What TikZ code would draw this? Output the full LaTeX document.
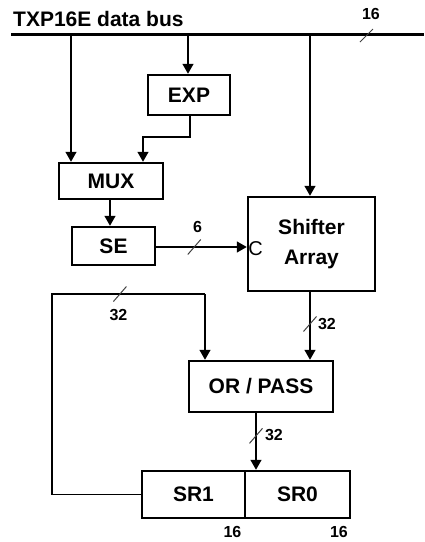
\documentclass[tikz,border=0pt]{standalone}
\usepackage{fontspec}
\setmainfont{Liberation Sans}
\usetikzlibrary{arrows.meta}
\tikzset{
  box/.style={draw, line width=2.5pt, inner sep=0pt, font=\fontsize{21pt}{30pt}\selectfont\bfseries, align=center},
  conn/.style={line width=1.4pt},
  arr/.style={conn, -{Triangle[length=10pt,width=11pt]}},
  busline/.style={line width=3pt},
  slash/.style={line width=1pt, black!75},
  num/.style={font=\fontsize{16pt}{18pt}\selectfont\bfseries, inner sep=0pt},
}
\begin{document}
\begin{tikzpicture}[x=1pt,y=-1pt]
\useasboundingbox (0,0) rectangle (424,542);
% title and bus
\node[anchor=base west, inner sep=0pt, font=\fontsize{21pt}{24pt}\selectfont\bfseries] (title) at (13,26) {TXP16E data bus};
\coordinate (busL) at (11,34);
\coordinate (busR) at (424,34);
\draw[busline] (busL) -- (busR);
\coordinate (bs) at (366.5,35.5);
\draw[slash] ([shift={(-6.5,6.5)}]bs) -- ([shift={(6.5,-6.5)}]bs);
\node[num] (n16a) at (371,14) {16};
% taps on bus
\coordinate (b1) at (71,34);
\coordinate (b2) at (188,34);
\coordinate (b3) at (310,34);
% boxes
\node[box, minimum width=82pt, minimum height=40pt] (exp) at (189,95) {EXP};
\node[box, minimum width=104pt, minimum height=36pt] (mux) at (111,181) {MUX};
\node[box, minimum width=83pt, minimum height=38pt] (se) at (113.5,246) {SE};
\node[box, minimum width=127pt, minimum height=94pt] (sh) at (311.5,244) {Shifter\\Array};
\node[box, minimum width=144pt, minimum height=51pt] (orp) at (261,386.5) {OR / PASS};
\node[box, minimum width=103pt, minimum height=47pt] (sr1) at (193.5,494.5) {SR1};
\node[box, minimum width=105pt, minimum height=47pt] (sr0) at (297.5,494.5) {SR0};
\node[font=\fontsize{20pt}{22pt}\selectfont, inner sep=0pt] (clab) at (255.5,249) {C};
% connectors from bus
\draw[arr] (b1) -- (b1 |- mux.north);
\draw[arr] (b2) -- (b2 |- exp.north);
\draw[arr] (b3) -- (b3 |- sh.north);
% EXP to MUX
\coordinate (e1) at (190,137);
\coordinate (e2) at (143,137);
\draw[arr] (exp.south -| e1) -- (e1) -- (e2) -- (e2 |- mux.north);
% MUX to SE
\coordinate (m1) at (110,0);
\draw[arr] (m1 |- mux.south) -- (m1 |- se.north);
% SE to shifter
\draw[arr] (se.east |- 0,247) -- coordinate[pos=0.42] (s6) (sh.west |- 0,247);
\draw[slash] ([shift={(-6.5,7.5)}]s6) -- ([shift={(6.5,-7.5)}]s6);
\node[num] (n6) at (197.5,227) {6};
% shifter to OR/PASS
\draw[arr] (b3 |- sh.south) -- coordinate[pos=0.47] (s32a) (b3 |- orp.north);
\draw[slash] ([shift={(-6.5,7.5)}]s32a) -- ([shift={(6.5,-7.5)}]s32a);
\node[num] (n32a) at (327,323.5) {32};
% OR/PASS to SR
\coordinate (x4) at (256,0);
\draw[arr] (x4 |- orp.south) -- coordinate[pos=0.4] (s32b) (x4 |- sr0.north);
\draw[slash] ([shift={(-6.5,7.5)}]s32b) -- ([shift={(6.5,-7.5)}]s32b);
\node[num] (n32b) at (274,435) {32};
% feedback loop
\coordinate (fbl) at (52,294);
\coordinate (fbr) at (205,294);
\draw[conn] (sr1.west) -| (fbl) -- coordinate[pos=0.444] (s32c) (fbr);
\draw[arr] (fbr) -- (fbr |- orp.north);
\draw[slash] ([shift={(-6.5,7.5)}]s32c) -- ([shift={(6.5,-7.5)}]s32c);
\node[num] (n32c) at (118.5,315) {32};
% widths of SR halves
\node[num] (n16b) at (232.5,531.5) {16};
\node[num] (n16c) at (339,531.5) {16};
\end{tikzpicture}
\end{document}
